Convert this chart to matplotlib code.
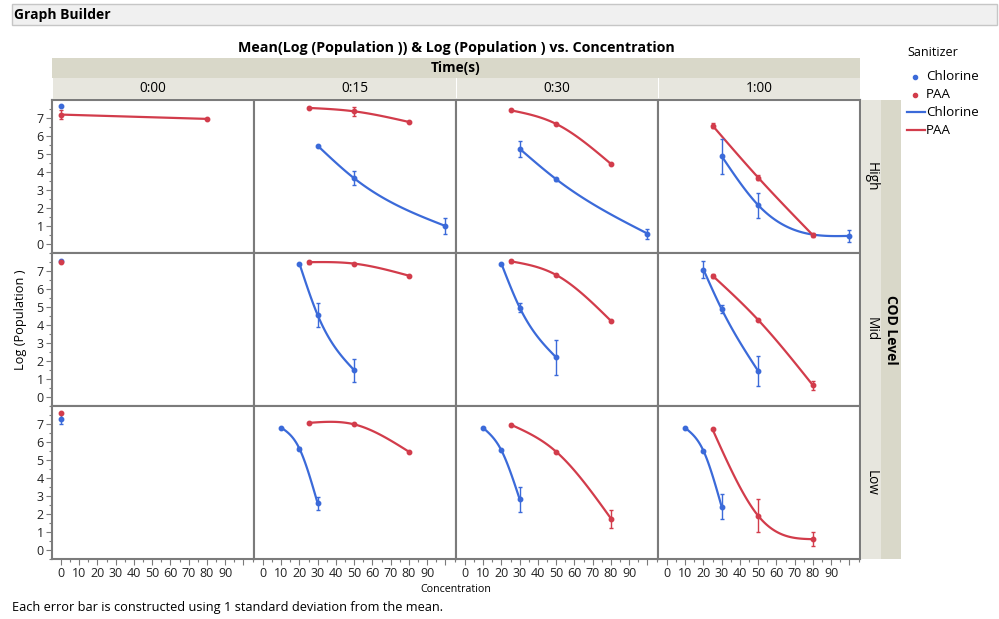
import numpy as np
import matplotlib.pyplot as plt
from matplotlib.patches import Rectangle
from matplotlib.lines import Line2D

plt.rcParams["font.family"] = ["Open Sans", "DejaVu Sans"]

TIMES = ["0:00", "0:15", "0:30", "1:00"]
LEVELS = ["High", "Mid", "Low"]
SANITIZERS = ["Chlorine", "PAA"]

# concentration / mean log(population) / sd, one inner list per time column
HIGH_CHLORINE_CONC = [[0], [30, 50, 100], [30, 50, 100], [30, 50, 100]]
HIGH_CHLORINE_MEAN = [[7.69], [5.46, 3.65, 1.00], [5.29, 3.60, 0.58], [4.88, 2.16, 0.45]]
HIGH_CHLORINE_SD = [[0.0], [0.0, 0.39, 0.45], [0.44, 0.08, 0.28], [0.98, 0.70, 0.35]]
HIGH_PAA_CONC = [[0, 80], [25, 50, 80], [25, 50, 80], [25, 50, 80]]
HIGH_PAA_MEAN = [[7.19, 6.95], [7.56, 7.37, 6.78], [7.43, 6.67, 4.45], [6.58, 3.69, 0.49]]
HIGH_PAA_SD = [[0.27, 0.0], [0.0, 0.24, 0.0], [0.0, 0.0, 0.0], [0.15, 0.12, 0.10]]

MID_CHLORINE_CONC = [[0], [20, 30, 50], [20, 30, 50], [20, 30, 50]]
MID_CHLORINE_MEAN = [[7.58], [7.41, 4.55, 1.49], [7.40, 4.97, 2.20], [7.08, 4.88, 1.44]]
MID_CHLORINE_SD = [[0.0], [0.0, 0.67, 0.63], [0.0, 0.25, 0.95], [0.47, 0.23, 0.82]]
MID_PAA_CONC = [[0], [25, 50, 80], [25, 50, 80], [25, 50, 80]]
MID_PAA_MEAN = [[7.49], [7.49, 7.41, 6.74], [7.54, 6.78, 4.23], [6.74, 4.28, 0.65]]
MID_PAA_SD = [[0.0], [0.08, 0.0, 0.0], [0.08, 0.0, 0.0], [0.12, 0.0, 0.24]]

LOW_CHLORINE_CONC = [[0], [10, 20, 30], [10, 20, 30], [10, 20, 30]]
LOW_CHLORINE_MEAN = [[7.28], [6.80, 5.63, 2.59], [6.78, 5.53, 2.82], [6.78, 5.51, 2.40]]
LOW_CHLORINE_SD = [[0.30], [0.0, 0.10, 0.35], [0.0, 0.0, 0.69], [0.0, 0.0, 0.69]]
LOW_PAA_CONC = [[0], [25, 50, 80], [25, 50, 80], [25, 50, 80]]
LOW_PAA_MEAN = [[7.60], [7.06, 6.98, 5.46], [6.97, 5.46, 1.75], [6.70, 1.90, 0.60]]
LOW_PAA_SD = [[0.0], [0.0, 0.0, 0.0], [0.0, 0.0, 0.50], [0.0, 0.92, 0.39]]

ROWS = [
    ((HIGH_CHLORINE_CONC, HIGH_CHLORINE_MEAN, HIGH_CHLORINE_SD),
     (HIGH_PAA_CONC, HIGH_PAA_MEAN, HIGH_PAA_SD)),
    ((MID_CHLORINE_CONC, MID_CHLORINE_MEAN, MID_CHLORINE_SD),
     (MID_PAA_CONC, MID_PAA_MEAN, MID_PAA_SD)),
    ((LOW_CHLORINE_CONC, LOW_CHLORINE_MEAN, LOW_CHLORINE_SD),
     (LOW_PAA_CONC, LOW_PAA_MEAN, LOW_PAA_SD)),
]

BLUE = "#3b6ad9"
RED = "#d23c4b"
COLORS = [BLUE, RED]
STRIP_DARK = "#d9d8c9"
STRIP_LIGHT = "#e7e6de"
FRAME = "#7b7b7b"

W, H = 999, 619


def rect(x, y, w, h):
    return [x / W, 1 - (y + h) / H, w / W, h / H]


def smooth(x, y, n=120):
    """Natural cubic spline through the means (like the JMP smoother)."""
    x = np.asarray(x, float)
    y = np.asarray(y, float)
    if len(x) < 3:
        return x, y
    h = np.diff(x)
    m = len(x)
    A = np.zeros((m, m))
    b = np.zeros(m)
    A[0, 0] = A[-1, -1] = 1
    for i in range(1, m - 1):
        A[i, i - 1] = h[i - 1]
        A[i, i] = 2 * (h[i - 1] + h[i])
        A[i, i + 1] = h[i]
        b[i] = 6 * ((y[i + 1] - y[i]) / h[i] - (y[i] - y[i - 1]) / h[i - 1])
    M = np.linalg.solve(A, b)
    xs = np.linspace(x[0], x[-1], n)
    i = np.clip(np.searchsorted(x, xs) - 1, 0, m - 2)
    t0 = x[i + 1] - xs
    t1 = xs - x[i]
    hi = h[i]
    ys = (M[i] * t0 ** 3 / (6 * hi) + M[i + 1] * t1 ** 3 / (6 * hi)
          + (y[i] / hi - M[i] * hi / 6) * t0 + (y[i + 1] / hi - M[i + 1] * hi / 6) * t1)
    return xs, ys


fig = plt.figure(figsize=(W / 100, H / 100), dpi=100)


def box(x, y, w, h, color, edge="none", lw=0):
    fig.add_artist(Rectangle((x / W, 1 - (y + h) / H), w / W, h / H, transform=fig.transFigure,
                             facecolor=color, edgecolor=edge, linewidth=lw))


def ftext(x, y, s, **kw):
    fig.text(x / W, 1 - y / H, s, **kw)


# header bar
box(12, 4, 985, 21, "#f0f0f0", edge="#c6c6c6", lw=1)
ftext(14, 15, "Graph Builder", fontsize=10, fontweight="bold", va="center")
ftext(456, 48, "Mean(Log (Population )) & Log (Population ) vs. Concentration",
      fontsize=10.3, fontweight="bold", ha="center", va="center")

# strips
LEFT, TOP, PW, PH = 52, 100, 202, 153
box(LEFT, 58, 4 * PW, 20, STRIP_DARK)
ftext(LEFT + 2 * PW, 68, "Time(s)", fontsize=9.8, fontweight="bold", ha="center", va="center")
for c, t in enumerate(TIMES):
    box(LEFT + c * PW + 0.5, 78, PW - 1, 21, STRIP_LIGHT)
    ftext(LEFT + c * PW + PW / 2, 89, t, fontsize=9.8, ha="center", va="center")
box(LEFT + 4 * PW + 1, TOP, 20, 3 * PH, STRIP_LIGHT)
box(LEFT + 4 * PW + 21, TOP, 20, 3 * PH, STRIP_DARK)
for r, lev in enumerate(LEVELS):
    ftext(LEFT + 4 * PW + 11, TOP + r * PH + PH / 2, lev, fontsize=9.8, rotation=270,
          ha="center", va="center")
ftext(LEFT + 4 * PW + 31, TOP + 1.5 * PH, "COD Level", fontsize=10, fontweight="bold",
      rotation=270, ha="center", va="center")

# panels
for r, row in enumerate(ROWS):
    for c in range(len(TIMES)):
        ax = fig.add_axes(rect(LEFT + c * PW, TOP + r * PH, PW, PH))
        for s, (conc, mean, sd) in enumerate(row):
            xs, ys = smooth(conc[c], mean[c])
            if len(conc[c]) > 1:
                ax.plot(xs, ys, color=COLORS[s], lw=1.6, zorder=2)
            ax.errorbar(conc[c], mean[c], yerr=sd[c], fmt="o", ms=3.2, color=COLORS[s],
                        elinewidth=1, capsize=1.5, capthick=1, zorder=3)
        ax.set_xlim(-4.9, 105.8)
        ax.set_ylim(-0.5, 8.0)
        ax.set_xticks(np.arange(0, 101, 10))
        ax.set_xticks(np.arange(5, 106, 5), minor=True)
        ax.set_yticks(np.arange(0, 8, 1))
        ax.set_yticks(np.arange(-0.5, 8.0, 0.5), minor=True)
        ax.set_xticklabels([str(v) for v in range(0, 100, 10)] + [""])
        ax.tick_params(which="both", direction="out", colors=FRAME, labelcolor="#222222",
                       labelsize=9, width=0.8)
        ax.tick_params(which="major", length=4, pad=2)
        ax.tick_params(which="minor", length=2)
        if c > 0:
            ax.tick_params(axis="y", which="both", left=False, labelleft=False)
        if r < 2:
            ax.tick_params(axis="x", which="both", bottom=False, labelbottom=False)
        for sp in ax.spines.values():
            sp.set_color(FRAME)
            sp.set_linewidth(1.5)

ftext(21, 320, "Log (Population )", fontsize=9.2, rotation=90, ha="center", va="center")
ftext(LEFT + 2 * PW, 589, "Concentration", fontsize=7.7, ha="center", va="center")
ftext(12, 607, "Each error bar is constructed using 1 standard deviation from the mean.",
      fontsize=9.2, va="center")

# legend
ftext(907, 53, "Sanitizer", fontsize=9, va="center")
for k, name in enumerate(SANITIZERS):
    y = 77 + 18 * k
    fig.add_artist(Line2D([915 / W], [1 - y / H], marker="o", ms=3, color=COLORS[k],
                          transform=fig.transFigure))
    ftext(926, y, name, fontsize=9.6, va="center")
    y = 112 + 18 * k
    fig.add_artist(Line2D([907 / W, 925 / W], [1 - y / H] * 2, lw=1.6, color=COLORS[k],
                          transform=fig.transFigure))
    ftext(926, y, name, fontsize=9.6, va="center")

fig.savefig("out.png", dpi=100)
